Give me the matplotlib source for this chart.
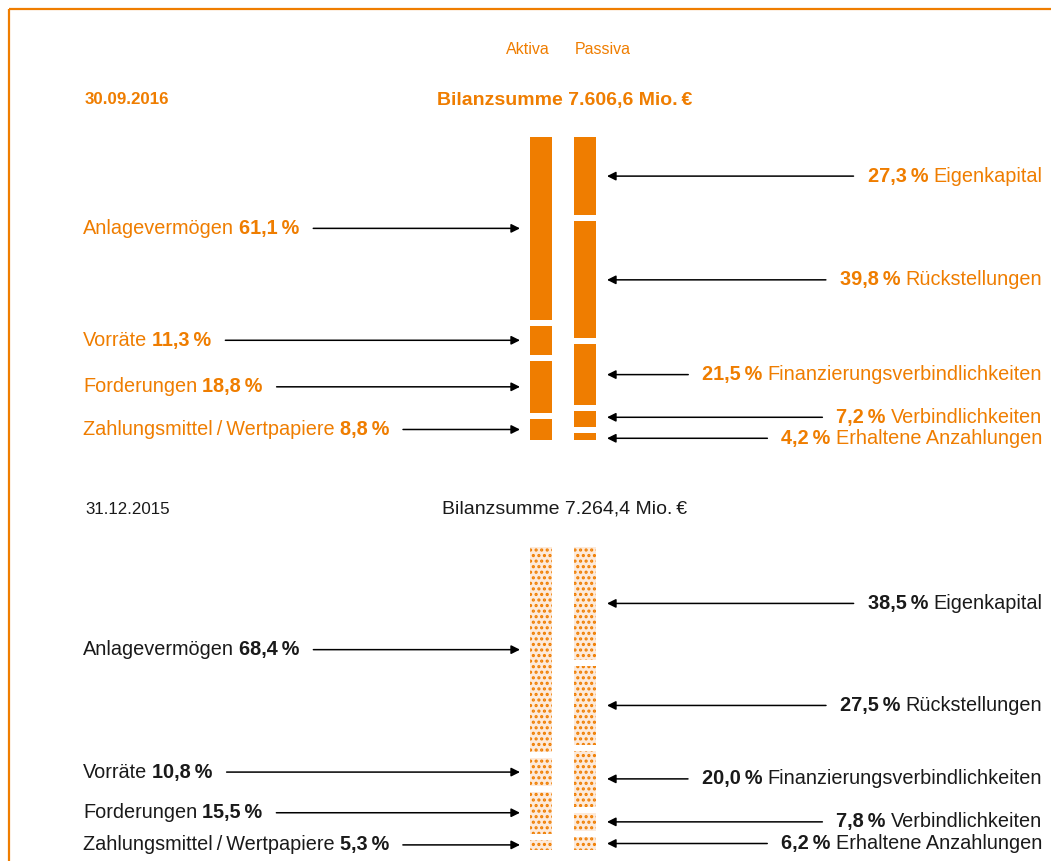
import matplotlib.pyplot as plt
import numpy as np

plt.rcParams["font.family"] = ["Liberation Sans", "DejaVu Sans"]
plt.rcParams["hatch.linewidth"] = 1.5

ORANGE = "#EF7D00"
LIGHT = "#FDEADA"
DARK = "#1a1a1a"

aktiva_labels = ["Anlagevermögen", "Vorräte", "Forderungen",
                 "Zahlungsmittel\u2009/\u2009Wertpapiere"]
passiva_labels = ["Eigenkapital", "Rückstellungen", "Finanzierungsverbindlichkeiten",
                  "Verbindlichkeiten", "Erhaltene Anzahlungen"]

aktiva_2016 = [61.1, 11.3, 18.8, 8.8]
passiva_2016 = [27.3, 39.8, 21.5, 7.2, 4.2]
aktiva_2015 = [68.4, 10.8, 15.5, 5.3]
passiva_2015 = [38.5, 27.5, 20.0, 7.8, 6.2]

dates = ["30.09.2016", "31.12.2015"]
totals = ["Bilanzsumme 7.606,6 Mio.\u2009€", "Bilanzsumme 7.264,4 Mio.\u2009€"]

W, H = 1051, 861
fig = plt.figure(figsize=(W / 100, H / 100), dpi=100)

# frame + header, pixel coordinates
base = fig.add_axes([0, 0, 1, 1])
base.set_xlim(0, W)
base.set_ylim(H, 0)
base.axis("off")
base.plot([9, W], [9, 9], color=ORANGE, lw=1.6, solid_capstyle="butt")
base.plot([9, 9], [9, H], color=ORANGE, lw=1.6, solid_capstyle="butt")
base.text(528, 50, "Aktiva", color=ORANGE, fontsize=11.5, ha="center", va="center")
base.text(603, 50, "Passiva", color=ORANGE, fontsize=11.5, ha="center", va="center")

renderer = fig.canvas.get_renderer()


def width_px(t):
    return t.get_window_extent(renderer).width


def fmt(v):
    return f"{v:.1f}".replace(".", ",") + "\u2009%"


def label_rows(vals, min_sep):
    cum = np.concatenate([[0], np.cumsum(vals)])
    ys = list((cum[:-1] + cum[1:]) / 2)
    # push the two smallest rows apart a bit so the labels don't touch
    for i in range(len(ys) - 1, 0, -1):
        d = ys[i] - ys[i - 1]
        if d < min_sep:
            ys[i - 1] -= (min_sep - d) / 2
            ys[i] += (min_sep - d) / 2
    return ys


def panel(top, bottom, aktiva, passiva, color, hatched, date, total, head_y):
    fs = 14.3
    weight = "normal" if hatched else "bold"
    base.text(85, head_y, date, color=color, fontsize=12.2, fontweight=weight, va="center")
    base.text(565, head_y, total, color=color, fontsize=14, fontweight=weight,
              ha="center", va="center")

    ax = fig.add_axes([0, 1 - bottom / H, 1, (bottom - top) / H])
    ax.axis("off")
    gap = 2.0
    ax.set_xlim(0, W)
    ax.set_ylim(100 - gap / 2, gap / 2)
    unit = (100 - gap) / (bottom - top)  # data units per pixel

    for x0, vals in [(530, aktiva), (574, passiva)]:
        cum = np.concatenate([[0], np.cumsum(vals)])
        for i, v in enumerate(vals):
            if hatched:
                ax.bar(x0, v - gap, bottom=cum[i] + gap / 2, width=22, align="edge",
                       facecolor=LIGHT, edgecolor=ORANGE, linewidth=0, hatch="...")
            else:
                ax.bar(x0, v - gap, bottom=cum[i] + gap / 2, width=22, align="edge",
                       color=ORANGE, linewidth=0)

    arrow = dict(arrowstyle="-|>", color="black", lw=1.1, mutation_scale=13,
                 shrinkA=0, shrinkB=0)

    # Aktiva labels, left side
    for y, name, v in zip(label_rows(aktiva, 21 * unit), aktiva_labels, aktiva):
        t1 = ax.text(83, y, name, color=color, fontsize=fs, va="center")
        x2 = 83 + width_px(t1) + 5
        t2 = ax.text(x2, y, fmt(v), color=color, fontsize=fs, fontweight="bold", va="center")
        xs = x2 + width_px(t2) + 14
        ax.annotate("", xy=(520, y), xytext=(xs, y), arrowprops=arrow)

    # Passiva labels, right side
    for y, name, v in zip(label_rows(passiva, 21 * unit), passiva_labels, passiva):
        t1 = ax.text(1042, y, name, color=color, fontsize=fs, ha="right", va="center")
        x2 = 1042 - width_px(t1) - 5
        t2 = ax.text(x2, y, fmt(v), color=color, fontsize=fs, fontweight="bold",
                     ha="right", va="center")
        xs = x2 - width_px(t2) - 14
        ax.annotate("", xy=(607, y), xytext=(xs, y), arrowprops=arrow)


panel(137, 440, aktiva_2016, passiva_2016, ORANGE, False, dates[0], totals[0], 100)
panel(547, 850, aktiva_2015, passiva_2015, DARK, True, dates[1], totals[1], 509)

fig.savefig("out.png", dpi=100)
